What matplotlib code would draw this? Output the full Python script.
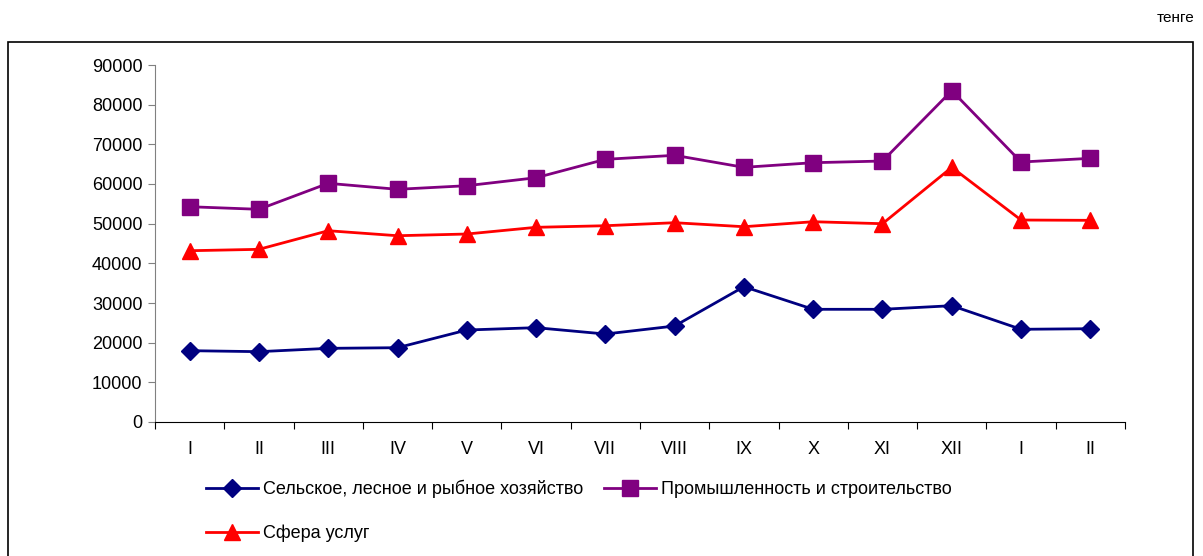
import matplotlib.pyplot as plt
from matplotlib.patches import Rectangle
import numpy as np

plt.rcParams['font.family'] = ['Liberation Sans', 'DejaVu Sans']

months = ["I", "II", "III", "IV", "V", "VI", "VII", "VIII", "IX", "X", "XI", "XII", "I", "II"]

agro = [17980, 17730, 18570, 18730, 23190, 23780, 22180, 24200, 34110, 28410, 28410, 29320, 23370, 23520]
industry = [54270, 53620, 60170, 58660, 59570, 61580, 66220, 67230, 64200, 65370, 65790, 83520, 65540, 66470]
services = [43180, 43530, 48220, 46960, 47390, 49080, 49480, 50240, 49230, 50490, 49990, 64200, 50920, 50840]

names = ["Сельское, лесное и рыбное хозяйство", "Промышленность и строительство", "Сфера услуг"]

W, H = 1203, 556
fig = plt.figure(figsize=(W / 100, H / 100), dpi=100)

# outer frame of the chart area
fig.patches.append(Rectangle((8 / W, -0.05), (1193 - 8) / W, 1.05 - 42 / H,
                             transform=fig.transFigure, fill=False,
                             edgecolor='black', linewidth=1.2))
fig.text(1194 / W, 1 - 18 / H, "тенге", ha='right', va='center', fontsize=11)

ax = fig.add_axes([155 / W, 1 - 422 / H, (1125 - 155) / W, 357 / H])
x = np.arange(len(months))

l1, = ax.plot(x, agro, color='#000080', marker='D', markersize=9, linewidth=2, label=names[0])
l2, = ax.plot(x, industry, color='#800080', marker='s', markersize=11, linewidth=2, label=names[1])
l3, = ax.plot(x, services, color='#FF0000', marker='^', markersize=11, linewidth=2, label=names[2])

ax.set_xlim(-0.5, len(months) - 0.5)
ax.set_ylim(0, 90000)
ax.set_yticks(np.arange(0, 90001, 10000))
ax.set_yticklabels([str(v) for v in range(0, 90001, 10000)], fontsize=13)

ax.set_xticks(np.arange(-0.5, len(months), 1))
ax.set_xticklabels([])
ax.set_xticks(x, minor=True)
ax.set_xticklabels(months, minor=True, fontsize=13)
ax.tick_params(axis='x', which='major', direction='out', length=5, color='black')
ax.tick_params(axis='x', which='minor', length=0, pad=14)
ax.tick_params(axis='y', direction='out', length=5, color='#808080', pad=4)

for s in ['top', 'right']:
    ax.spines[s].set_visible(False)
ax.spines['left'].set_color('#808080')
ax.spines['bottom'].set_color('black')

# order so that rows read: agro, industry / services
fig.legend(handles=[l1, l3, l2], loc='upper left', bbox_to_anchor=(206 / W, 1 - 480 / H),
           ncol=2, frameon=False, fontsize=13, handlelength=2.9, handletextpad=0.28,
           columnspacing=1.1, labelspacing=1.45, borderaxespad=0, borderpad=0)

fig.savefig("out.png", dpi=100)
